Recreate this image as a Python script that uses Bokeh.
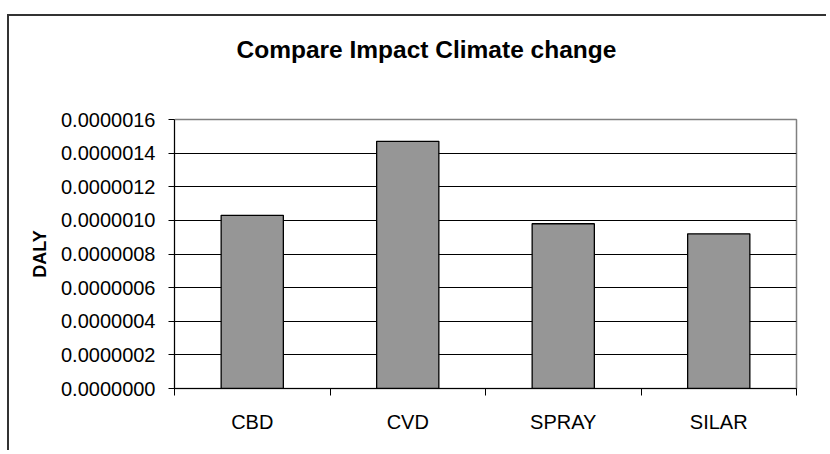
from bokeh.plotting import figure
from bokeh.models import Range1d, FixedTicker, PrintfTickFormatter, LinearAxis, Title
from bokeh.embed import file_html
from bokeh.resources import INLINE

categories = ["CBD", "CVD", "SPRAY", "SILAR"]
daly = [0.00000103, 0.00000147, 0.00000098, 0.00000092]
y_ticks = [0.0, 0.0000002, 0.0000004, 0.0000006, 0.0000008,
           0.0000010, 0.0000012, 0.0000014, 0.0000016]
title_text = "Compare Impact Climate change"
y_label = "DALY"

x_idx = list(range(len(categories)))
boundaries = [i - 0.5 for i in range(len(categories) + 1)]

p = figure(width=819, height=436, output_backend="svg", toolbar_location=None,
           title=None,
           x_range=Range1d(-0.5, len(categories) - 0.5),
           y_range=Range1d(y_ticks[0], y_ticks[-1]),
           min_border_left=165, min_border_right=32,
           min_border_top=103, min_border_bottom=64)
p.styles = {"border-top": "2px solid #333333", "border-left": "2px solid #333333",
            "margin-top": "14px", "margin-left": "7px"}
p.background_fill_color = "white"
p.border_fill_color = "white"
p.outline_line_color = "#808080"
p.outline_line_width = 1.5

# invisible spacer between the plot area and the title (nearest the frame)
spacer = LinearAxis(ticker=FixedTicker(ticks=[boundaries[0]]), axis_line_color=None,
                    major_tick_line_color="white", minor_tick_line_color=None,
                    major_tick_out=52, major_tick_in=0, minor_tick_out=0,
                    minor_tick_in=0, major_label_standoff=0,
                    major_label_text_color=None, major_label_text_font_size="1px")
p.add_layout(spacer, "above")

title = Title(text=title_text, align="left", offset=62,
              text_font="Liberation Sans", text_font_style="bold",
              text_font_size="24.5px", text_color="black")
p.add_layout(title, "above")

p.vbar(x=x_idx, top=daly, bottom=0, width=0.4, fill_color="#969696",
       line_color="black", line_width=1.3)

# y axis
p.yaxis.ticker = FixedTicker(ticks=y_ticks)
p.yaxis.formatter = PrintfTickFormatter(format="%.7f")
p.yaxis.major_label_text_font = "Liberation Sans"
p.yaxis.major_label_text_font_size = "20px"
p.yaxis.major_label_text_color = "black"
p.yaxis.major_tick_out = 6
p.yaxis.major_tick_in = 0
p.yaxis.minor_tick_line_color = None
p.yaxis.major_tick_line_color = "black"
p.yaxis.axis_line_color = "black"
p.yaxis.major_label_standoff = 13
p.yaxis.axis_label = y_label
p.yaxis.axis_label_text_font = "Liberation Sans"
p.yaxis.axis_label_text_font_style = "bold"
p.yaxis.axis_label_text_font_size = "18px"
p.yaxis.axis_label_text_color = "black"
p.yaxis.axis_label_standoff = 8

# x axis
xaxis = p.below[0]
xaxis.ticker = FixedTicker(ticks=x_idx, minor_ticks=boundaries)
xaxis.major_label_overrides = {i: c for i, c in zip(x_idx, categories)}
xaxis.major_label_text_font = "Liberation Sans"
xaxis.major_label_text_font_size = "20px"
xaxis.major_label_text_color = "black"
xaxis.major_tick_out = 0
xaxis.major_tick_in = 0
xaxis.minor_tick_out = 7
xaxis.minor_tick_in = 0
xaxis.minor_tick_line_color = "black"
xaxis.axis_line_color = "black"
xaxis.major_label_standoff = 15

p.xgrid.visible = False
p.ygrid.ticker = FixedTicker(ticks=y_ticks[1:-1])
p.ygrid.grid_line_color = "black"
p.ygrid.grid_line_width = 1

open("out.html", "w").write(file_html(p, INLINE))
